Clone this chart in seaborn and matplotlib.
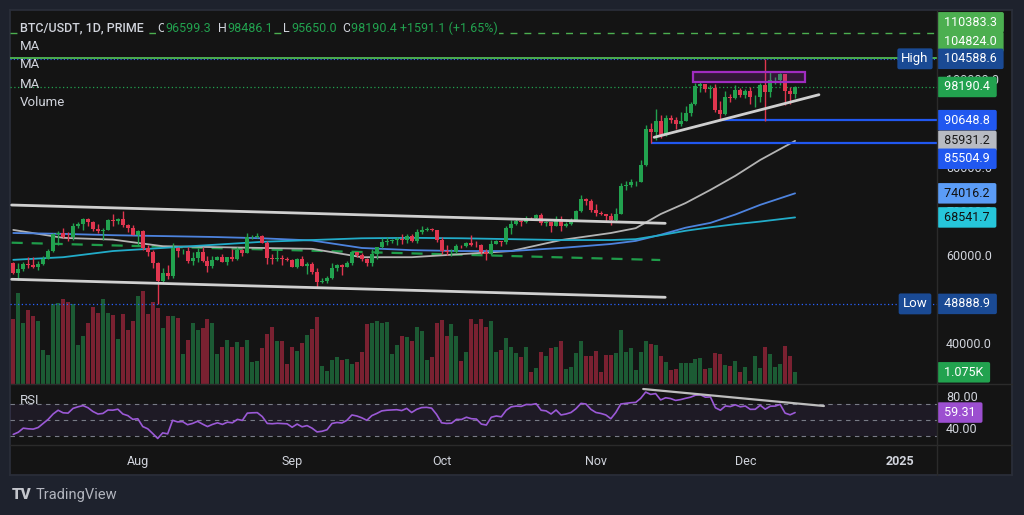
import numpy as np
import pandas as pd
import matplotlib
matplotlib.use("Agg")
import matplotlib.pyplot as plt
import matplotlib.dates as mdates
from matplotlib.lines import Line2D
from matplotlib.patches import Rectangle
from matplotlib.ticker import FuncFormatter
import seaborn as sns

# daily candles BTC/USDT, 7 Jul - 11 Dec 2024
dates = pd.date_range("2024-07-07", "2024-12-11", freq="D")
opens = [58239, 55857, 56714, 58050, 57725, 57339, 57889, 59204, 60797, 64724,
         65043, 64087, 63987, 66660, 67139, 68165, 67532, 65936, 65372, 65777,
         67912, 67813, 68255, 66784, 66188, 64628, 65354, 61498, 60697, 58161,
         54018, 56022, 55134, 61686, 60837, 60923, 58712, 59346, 60587, 58683,
         57541, 58874, 59491, 58427, 59438, 59014, 61156, 60375, 64037, 64157,
         64220, 62834, 59415, 59034, 59359, 59123, 58973, 57301, 59132, 57487,
         57970, 56180, 53962, 54160, 54869, 57042, 57635, 57338, 58127, 60571,
         60005, 59182, 58192, 60309, 61759, 62947, 63201, 63348, 63578, 63339,
         64262, 63152, 65173, 65769, 65858, 65602, 63327, 60805, 60649, 60752,
         62086, 62058, 62819, 62224, 62160, 60636, 60326, 62540, 63206, 62870,
         66083, 67074, 67620, 67421, 68428, 68378, 69031, 67377, 67426, 66668,
         68198, 66698, 67092, 68021, 69962, 72736, 72344, 70292, 69496, 69374,
         68775, 67850, 69372, 75571, 75857, 76509, 76677, 80370, 88647, 87952,
         90375, 87325, 91032, 90587, 89855, 90465, 92310, 94287, 98317, 98892,
         97672, 97900, 93010, 91965, 95863, 95643, 97461, 96407, 97185, 95840,
         95865, 98626, 96945, 99740, 99831, 101109, 97276, 96599.3]
highs = [58371, 58236, 58296, 59470, 59500, 58531, 59850, 61420, 64900, 65388,
         66128, 65133, 67386, 67598, 68366, 68480, 67818, 67102, 66175, 68200,
         69399, 68318, 70079, 66984, 66849, 65660, 65596, 62198, 61118, 58305,
         57040, 57736, 62745, 61744, 61470, 61858, 60711, 61578, 61800, 59849,
         59817, 59700, 60284, 59617, 61400, 61834, 61400, 64955, 64494, 65000,
         64481, 63212, 60234, 61166, 59944, 59462, 59054, 59425, 59809, 58520,
         58327, 56995, 54850, 55318, 58088, 58044, 57981, 58588, 60625, 60656,
         60382, 59210, 61320, 61786, 63850, 64133, 63559, 64000, 64745, 64688,
         64817, 65839, 66498, 66260, 66076, 65618, 64130, 62370, 61470, 62484,
         62370, 62975, 64478, 63200, 62543, 61321, 63417, 63480, 63285, 66500,
         67950, 68424, 67939, 68969, 68695, 69400, 69500, 67836, 67472, 68850,
         68771, 67454, 68332, 70270, 73620, 72961, 72700, 71632, 69914, 69391,
         69500, 70577, 76400, 76849, 77199, 76900, 81500, 89530, 89940, 93265,
         91790, 91850, 91779, 91449, 92594, 93905, 94831, 98984, 99588, 98948,
         98564, 98871, 94973, 97208, 96650, 98693, 97850, 97836, 98130, 96305,
         99000, 104588.6, 101898, 100439, 101350, 101215, 98270, 98486.1]
lows = [55793, 54260, 56289, 57157, 57000, 56590, 57756, 59200, 60632, 62373,
        63854, 63239, 63300, 66222, 65777, 66573, 65441, 65111, 63456, 65751,
        66669, 67066, 66428, 65302, 64530, 62302, 61230, 59850, 57122, 48888.9,
        53970, 54558, 54730, 59565, 60242, 58286, 57642, 58392, 58433, 56078,
        57098, 58785, 58408, 57787, 58548, 58823, 59724, 60342, 63531, 63773,
        62800, 58034, 57860, 58713, 57701, 58744, 57201, 57128, 57415, 55606,
        55643, 52550, 53745, 53629, 54591, 56386, 55545, 57324, 57632, 59538,
        58696, 57493, 57610, 59174, 61555, 62350, 62759, 62357, 62538, 62700,
        62947, 62670, 64819, 65422, 65432, 62856, 60164, 59981, 59828, 60459,
        61689, 61798, 62128, 61860, 60300, 58946, 60087, 62487, 62050, 62457,
        64800, 66750, 66666, 67177, 68018, 68100, 66800, 66571, 65260, 66510,
        65522, 66439, 66913, 67618, 69760, 71436, 69685, 68820, 69000, 67478,
        66835, 67476, 69298, 74753, 75555, 75714, 76492, 80216, 85504.9, 86127,
        86668, 87073, 90056, 88722, 89376, 90357, 91500, 94136, 97122, 97136,
        95734, 92600, 90648.8, 91792, 94827, 95407, 96000, 95693, 94395, 93578,
        94660, 90500, 95981, 98844, 98657, 94150, 94256, 95650.0]
closes = [55857, 56714, 58050, 57725, 57339, 57889, 59204, 60797, 64724, 65043,
          64087, 63987, 66660, 67139, 68165, 67532, 65936, 65372, 65777, 67912,
          67813, 68255, 66784, 66188, 64628, 65354, 61498, 60697, 58161, 54018,
          56022, 55134, 61686, 60837, 60923, 58712, 59346, 60587, 58683, 57541,
          58874, 59491, 58427, 59438, 59014, 61156, 60375, 64037, 64157, 64220,
          62834, 59415, 59034, 59359, 59123, 58973, 57301, 59132, 57487, 57970,
          56180, 53962, 54160, 54869, 57042, 57635, 57338, 58127, 60571, 60005,
          59182, 58192, 60309, 61759, 62947, 63201, 63348, 63578, 63339, 64262,
          63152, 65173, 65769, 65858, 65602, 63327, 60805, 60649, 60752, 62086,
          62058, 62819, 62224, 62160, 60636, 60326, 62540, 63206, 62870, 66083,
          67074, 67620, 67421, 68428, 68378, 69031, 67377, 67426, 66668, 68198,
          66698, 67092, 68021, 69962, 72736, 72344, 70292, 69496, 69374, 68775,
          67850, 69372, 75571, 75857, 76509, 76677, 80370, 88647, 87952, 90375,
          87325, 91032, 90587, 89855, 90465, 92310, 94287, 98317, 98892, 97672,
          97900, 93010, 91965, 95863, 95643, 97461, 96407, 97185, 95840, 95865,
          98626, 96945, 99740, 99831, 101109, 97276, 96599.3, 98190.4]
# volume in thousands
volumes = [5.97, 8.39, 5.63, 6.77, 6.28, 5.79, 3.12, 2.64, 7.32, 7.42,
           7.81, 7.51, 7.32, 3.58, 4.38, 5.58, 7.10, 6.52, 7.81, 6.52,
           6.31, 4.16, 6.43, 4.96, 5.79, 8.09, 8.55, 6.46, 7.56, 7.01,
           5.15, 6.22, 6.28, 6.07, 2.78, 4.02, 5.63, 4.96, 5.15, 5.95,
           5.63, 2.78, 3.43, 4.07, 3.37, 3.83, 3.43, 4.02, 2.05, 2.11,
           3.28, 4.60, 5.21, 3.92, 3.92, 1.81, 3.43, 3.03, 3.77, 4.50,
           5.05, 6.13, 1.65, 1.17, 2.21, 2.45, 2.21, 2.27, 1.81, 2.05,
           2.97, 5.49, 5.58, 5.79, 5.63, 5.70, 2.76, 3.58, 4.41, 4.32,
           3.95, 5.24, 4.84, 2.21, 2.45, 5.58, 5.88, 4.41, 5.49, 4.41,
           2.14, 2.97, 5.97, 5.49, 5.97, 5.24, 5.79, 2.97, 3.12, 4.25,
           3.37, 2.88, 2.48, 3.37, 1.10, 1.47, 2.97, 2.57, 3.31, 3.37,
           3.92, 1.35, 1.56, 2.88, 3.92, 2.57, 2.57, 3.03, 1.10, 2.64,
           2.69, 2.88, 4.99, 2.94, 3.28, 1.26, 2.94, 3.92, 3.68, 3.58,
           2.57, 2.05, 1.26, 1.41, 1.96, 1.90, 1.96, 2.30, 2.36, 1.35,
           1.47, 2.88, 2.78, 1.72, 1.65, 2.14, 1.10, 1.56, 0.28, 2.57,
           1.47, 3.37, 2.73, 1.56, 1.84, 3.46, 2.57, 1.075]
rsi = [32.0, 34.7, 39.8, 39.0, 38.6, 40.6, 45.7, 50.8, 57.5, 62.2,
       59.0, 58.6, 64.5, 66.5, 68.0, 65.3, 60.6, 57.5, 58.2, 62.5,
       62.3, 63.5, 57.5, 55.5, 50.8, 51.6, 41.8, 39.0, 33.1, 26.9,
       33.9, 32.7, 49.6, 47.6, 48.0, 44.1, 45.7, 48.4, 44.9, 41.8,
       44.5, 46.5, 44.5, 47.3, 46.5, 50.8, 49.5, 58.6, 59.0, 59.2,
       54.3, 45.7, 45.3, 45.9, 45.5, 45.2, 41.0, 44.9, 41.5, 43.0,
       39.8, 35.1, 35.9, 37.8, 45.7, 46.9, 46.3, 49.6, 56.3, 55.0,
       52.7, 49.6, 55.5, 58.2, 61.4, 62.2, 62.5, 62.9, 61.8, 64.5,
       59.4, 63.3, 65.5, 65.8, 64.8, 57.0, 46.5, 45.7, 46.0, 50.8,
       50.6, 53.5, 51.6, 51.2, 44.9, 43.7, 53.5, 55.0, 54.0, 62.2,
       66.5, 67.4, 67.0, 69.4, 69.2, 70.4, 62.2, 61.4, 57.5, 62.5,
       56.3, 57.5, 59.4, 64.1, 70.8, 70.0, 63.3, 59.4, 58.2, 56.3,
       51.6, 59.4, 70.0, 70.8, 71.6, 72.0, 77.1, 84.9, 82.0, 83.0,
       75.1, 77.8, 76.8, 74.5, 75.5, 77.1, 78.5, 81.0, 81.5, 78.5,
       78.8, 65.3, 62.2, 67.5, 66.8, 69.0, 66.5, 67.5, 63.3, 63.4,
       68.4, 63.5, 67.2, 67.4, 69.5, 58.6, 56.5, 59.31]

# the three moving averages
ma_dates = pd.to_datetime(["2024-07-07", "2024-07-17", "2024-07-27", "2024-08-06", "2024-08-16",
                           "2024-08-26", "2024-09-05", "2024-09-15", "2024-09-25", "2024-10-05",
                           "2024-10-15", "2024-10-25", "2024-11-04", "2024-11-09", "2024-11-14",
                           "2024-11-19", "2024-11-24", "2024-11-29", "2024-12-04", "2024-12-11"])
ma_gray = [65700, 63900, 63500, 62000, 61800, 61600, 61400, 59500, 59500, 60200,
           60900, 63400, 65000, 66100, 69300, 71800, 74800, 78000, 81600, 85931.2]
ma_blue = [65000, 64800, 64500, 64300, 64100, 63800, 63300, 61600, 61100, 60900,
           60900, 61600, 62500, 63200, 64600, 66200, 67300, 69200, 71400, 74016.2]
ma_cyan = [58900, 59500, 60900, 61600, 62300, 63000, 63400, 63800, 63900, 63800,
           63600, 63400, 63400, 63600, 64500, 65500, 66300, 67000, 67600, 68541.7]

GREEN, RED = "#22a24f", "#e0364f"
VGREEN, VRED = "#1c5b34", "#7a2131"
TXT = "#d1d4dc"

sns.set_theme(style="dark", rc={"axes.facecolor": "#141414", "figure.facecolor": "#1e222d"})
plt.rcParams["font.family"] = ["Roboto", "DejaVu Sans"]

W, H = 1024, 515
fig = plt.figure(figsize=(W / 100, H / 100), dpi=100, facecolor="#1e222d")


def box(x0, y0, x1, y1):
    return [x0 / W, 1 - y1 / H, (x1 - x0) / W, (y1 - y0) / H]


bg = fig.add_axes(box(10, 10, 1012, 475))
bg.set_facecolor("#141414")
bg.set_xticks([])
bg.set_yticks([])
for s in bg.spines.values():
    s.set_color("#2a2e39")

axv = fig.add_axes(box(10, 10, 937, 384))
ax = fig.add_axes(box(10, 10, 937, 384), sharex=axv)
axr = fig.add_axes(box(10, 384, 937, 445), sharex=axv)
for a in (axv, ax, axr):
    a.set_facecolor("none")
    a.grid(False)
    for s in a.spines.values():
        s.set_visible(False)

o, h, l, c = map(np.array, (opens, highs, lows, closes))
up = c >= o

# volume (overlay at the bottom of the price pane)
axv.bar(dates, volumes, width=0.8, color=np.where(up, VGREEN, VRED), linewidth=0)
axv.set_ylim(0, 34.4)
axv.set_yticks([])

# candles
col = np.where(up, GREEN, RED)
ax.vlines(dates, l, h, colors=col, linewidth=1, zorder=4)
ax.bar(dates, np.maximum(np.abs(c - o), 90), bottom=np.minimum(o, c), width=0.8,
       color=col, linewidth=0, zorder=5)

# moving averages
sns.lineplot(x=ma_dates, y=ma_gray, ax=ax, color="#b4b4b4", linewidth=1.3, legend=False, zorder=3)
sns.lineplot(x=ma_dates, y=ma_blue, ax=ax, color="#4d83de", linewidth=1.3, legend=False, zorder=3)
sns.lineplot(x=ma_dates, y=ma_cyan, ax=ax, color="#22acc9", linewidth=1.3, legend=False, zorder=3)

start = mdates.date2num(dates[0])
xmin, xmax = start - 0.66, start + 185.5
axv.set_xlim(xmin, xmax)

# horizontal levels
ax.axhline(110383.3, color="#4caf50", lw=1, ls=(0, (5, 5)), zorder=2)
ax.axhline(104824.0, color="#4caf50", lw=1.4, zorder=2)
ax.axhline(104588.6, color="#2962ff", lw=0.8, ls=(0, (1, 2)), zorder=2)
ax.axhline(98190.4, color="#22a24f", lw=0.9, ls=(0, (1, 2)), zorder=2)
ax.axhline(48888.9, color="#2962ff", lw=0.9, ls=(0, (1, 2)), zorder=2)
ax.hlines(90648.8, mdates.date2num(pd.Timestamp("2024-11-26")), xmax, color="#2158f0", lw=1.6, zorder=3)
ax.hlines(85504.9, mdates.date2num(pd.Timestamp("2024-11-12")), xmax, color="#2158f0", lw=1.6, zorder=3)

# drawn trend lines
chan_x = pd.to_datetime(["2024-07-06 16:00", "2024-11-14 22:00"])
ax.plot(chan_x, [71360, 67200], color="#cfcfcf", lw=2, zorder=6)
ax.plot(chan_x, [54480, 50390], color="#cfcfcf", lw=2, zorder=6)
ax.plot(pd.to_datetime(["2024-07-06 16:00", "2024-11-13 22:00"]), [62800, 58860],
        color="#1f9c4a", lw=1.6, ls=(0, (5, 4)), zorder=2)
ax.plot(pd.to_datetime(["2024-11-12 17:00", "2024-12-15 19:00"]), [86750, 96430],
        color="#cfcfcf", lw=2, zorder=6)
rx0 = mdates.date2num(pd.Timestamp("2024-11-20 14:00"))
ax.add_patch(Rectangle((rx0, 99300), 22.4, 2360, facecolor=(0.61, 0.15, 0.69, 0.22),
                       edgecolor="#a02cc0", lw=1.6, zorder=7))

ax.set_ylim(30682, 115682)
ax.yaxis.tick_right()
# 50000, 90000 and 110000 sit fully under price tags
ax.set_yticks([40000, 60000, 70000, 80000, 100000])
ax.yaxis.set_major_formatter(FuncFormatter(lambda v, p: f"{v:.1f}"))
ax.tick_params(axis="y", length=0, pad=6.5, labelsize=9, labelcolor=TXT)
for a in (ax, axv):
    a.tick_params(axis="x", labelbottom=False, length=0)

# RSI pane
axr.axhspan(30, 70, color="#7e57c2", alpha=0.1, lw=0)
for v in (70, 50, 30):
    axr.axhline(v, color="#787b86", lw=0.8, ls=(0, (4, 4)))
sns.lineplot(x=dates, y=rsi, ax=axr, color="#9b59d6", linewidth=1.2, legend=False)
axr.plot(pd.to_datetime(["2024-11-10 12:00", "2024-12-16 19:00"]), [88.75, 67.5],
         color="#bdbdbd", lw=1.6)
axr.set_ylim(18.75, 95)
axr.yaxis.tick_right()
axr.set_yticks([40, 80])
axr.yaxis.set_major_formatter(FuncFormatter(lambda v, p: f"{v:.2f}"))
axr.tick_params(axis="y", length=0, pad=6.5, labelsize=9, labelcolor=TXT)
axr.set_xlim(xmin, xmax)

tick_days = pd.to_datetime(["2024-08-01", "2024-09-01", "2024-10-01", "2024-11-01",
                            "2024-12-01", "2025-01-01"])
axr.set_xticks(mdates.date2num(tick_days))
axr.set_xticklabels(["Aug", "Sep", "Oct", "Nov", "Dec", "2025"])
axr.tick_params(axis="x", length=0, pad=7, labelsize=9, labelcolor=TXT)
axr.get_xticklabels()[-1].set_fontweight("bold")
axr.set_xlabel("")
axr.set_ylabel("")
ax.set_xlabel("")
ax.set_ylabel("")


def tag(a, y, text, fc, tc="white", dy=0):
    a.annotate(f" {text} ", xy=(1, y), xycoords=a.get_yaxis_transform(), xytext=(4, dy),
               textcoords="offset pixels", ha="left", va="center", fontsize=9, color=tc,
               annotation_clip=False, zorder=30,
               bbox=dict(boxstyle="round,pad=0.3,rounding_size=0.15", fc=fc, ec="none"))


def side(a, y, text):
    a.annotate(text, xy=(1, y), xycoords=a.get_yaxis_transform(), xytext=(-22, 0),
               textcoords="offset pixels", ha="center", va="center", fontsize=9.5,
               color="white", annotation_clip=False, zorder=30,
               bbox=dict(boxstyle="round,pad=0.3,rounding_size=0.15", fc="#1a4a94", ec="none"))


tag(ax, 110383.3, "110383.3", "#4caf50", dy=11)
tag(ax, 104824.0, "104824.0", "#4caf50", dy=16)
tag(ax, 104588.6, "104588.6", "#1a4a94")
side(ax, 104588.6, "High")
tag(ax, 98190.4, "98190.4", "#22a24f")
tag(ax, 90648.8, "90648.8", "#2158f0")
tag(ax, 85931.2, "85931.2", "#b8bbc2", tc="#1a1a1a")
tag(ax, 85504.9, "85504.9", "#2158f0", dy=-16)
tag(ax, 74016.2, "74016.2", "#5b9cf6", tc="#111111")
tag(ax, 68541.7, "68541.7", "#26c6da", tc="#111111")
tag(ax, 48888.9, "48888.9", "#1a4a94")
side(ax, 48888.9, "Low")
tag(axv, 1.075, "1.075K", "#22a24f")
tag(axr, 59.31, "59.31", "#9c4fd0")


def ftext(x, y, s, **kw):
    fig.text(x / W, 1 - y / H, s, va="center", ha="left", **kw)


hb = dict(fc="#141414", ec="none", pad=0.5)
ftext(20, 28, "BTC/USDT, 1D, PRIME", color=TXT, fontsize=9, fontweight="medium", bbox=hb)
for x, s, cl in [(157, "O", TXT), (165, "96599.3", GREEN), (218, "H", TXT), (227, "98486.1", GREEN),
                 (283, "L", TXT), (291, "95650.0", GREEN), (342, "C", TXT),
                 (351, "98190.4 +1591.1 (+1.65%)", GREEN)]:
    ftext(x, 28, s, color=cl, fontsize=9, bbox=hb)
for y, s in [(46, "MA"), (64, "MA"), (84, "MA"), (102, "Volume")]:
    ftext(20, y, s, color=TXT, fontsize=9.5)
ftext(20, 401, "RSI", color=TXT, fontsize=9.5)
ftext(12, 495, "TV", color="#c4c6cc", fontsize=11, fontweight="heavy")
ftext(36, 495, "TradingView", color="#b2b5be", fontsize=10.5)

# pane separators
for (x0, y0, x1, y1) in [(10, 384, 1012, 384), (10, 445, 1012, 445), (937, 10, 937, 475)]:
    fig.add_artist(Line2D([x0 / W, x1 / W], [1 - y0 / H, 1 - y1 / H], transform=fig.transFigure,
                          color="#2b2b2b", lw=1))

fig.savefig("out.png", dpi=100, facecolor=fig.get_facecolor())
